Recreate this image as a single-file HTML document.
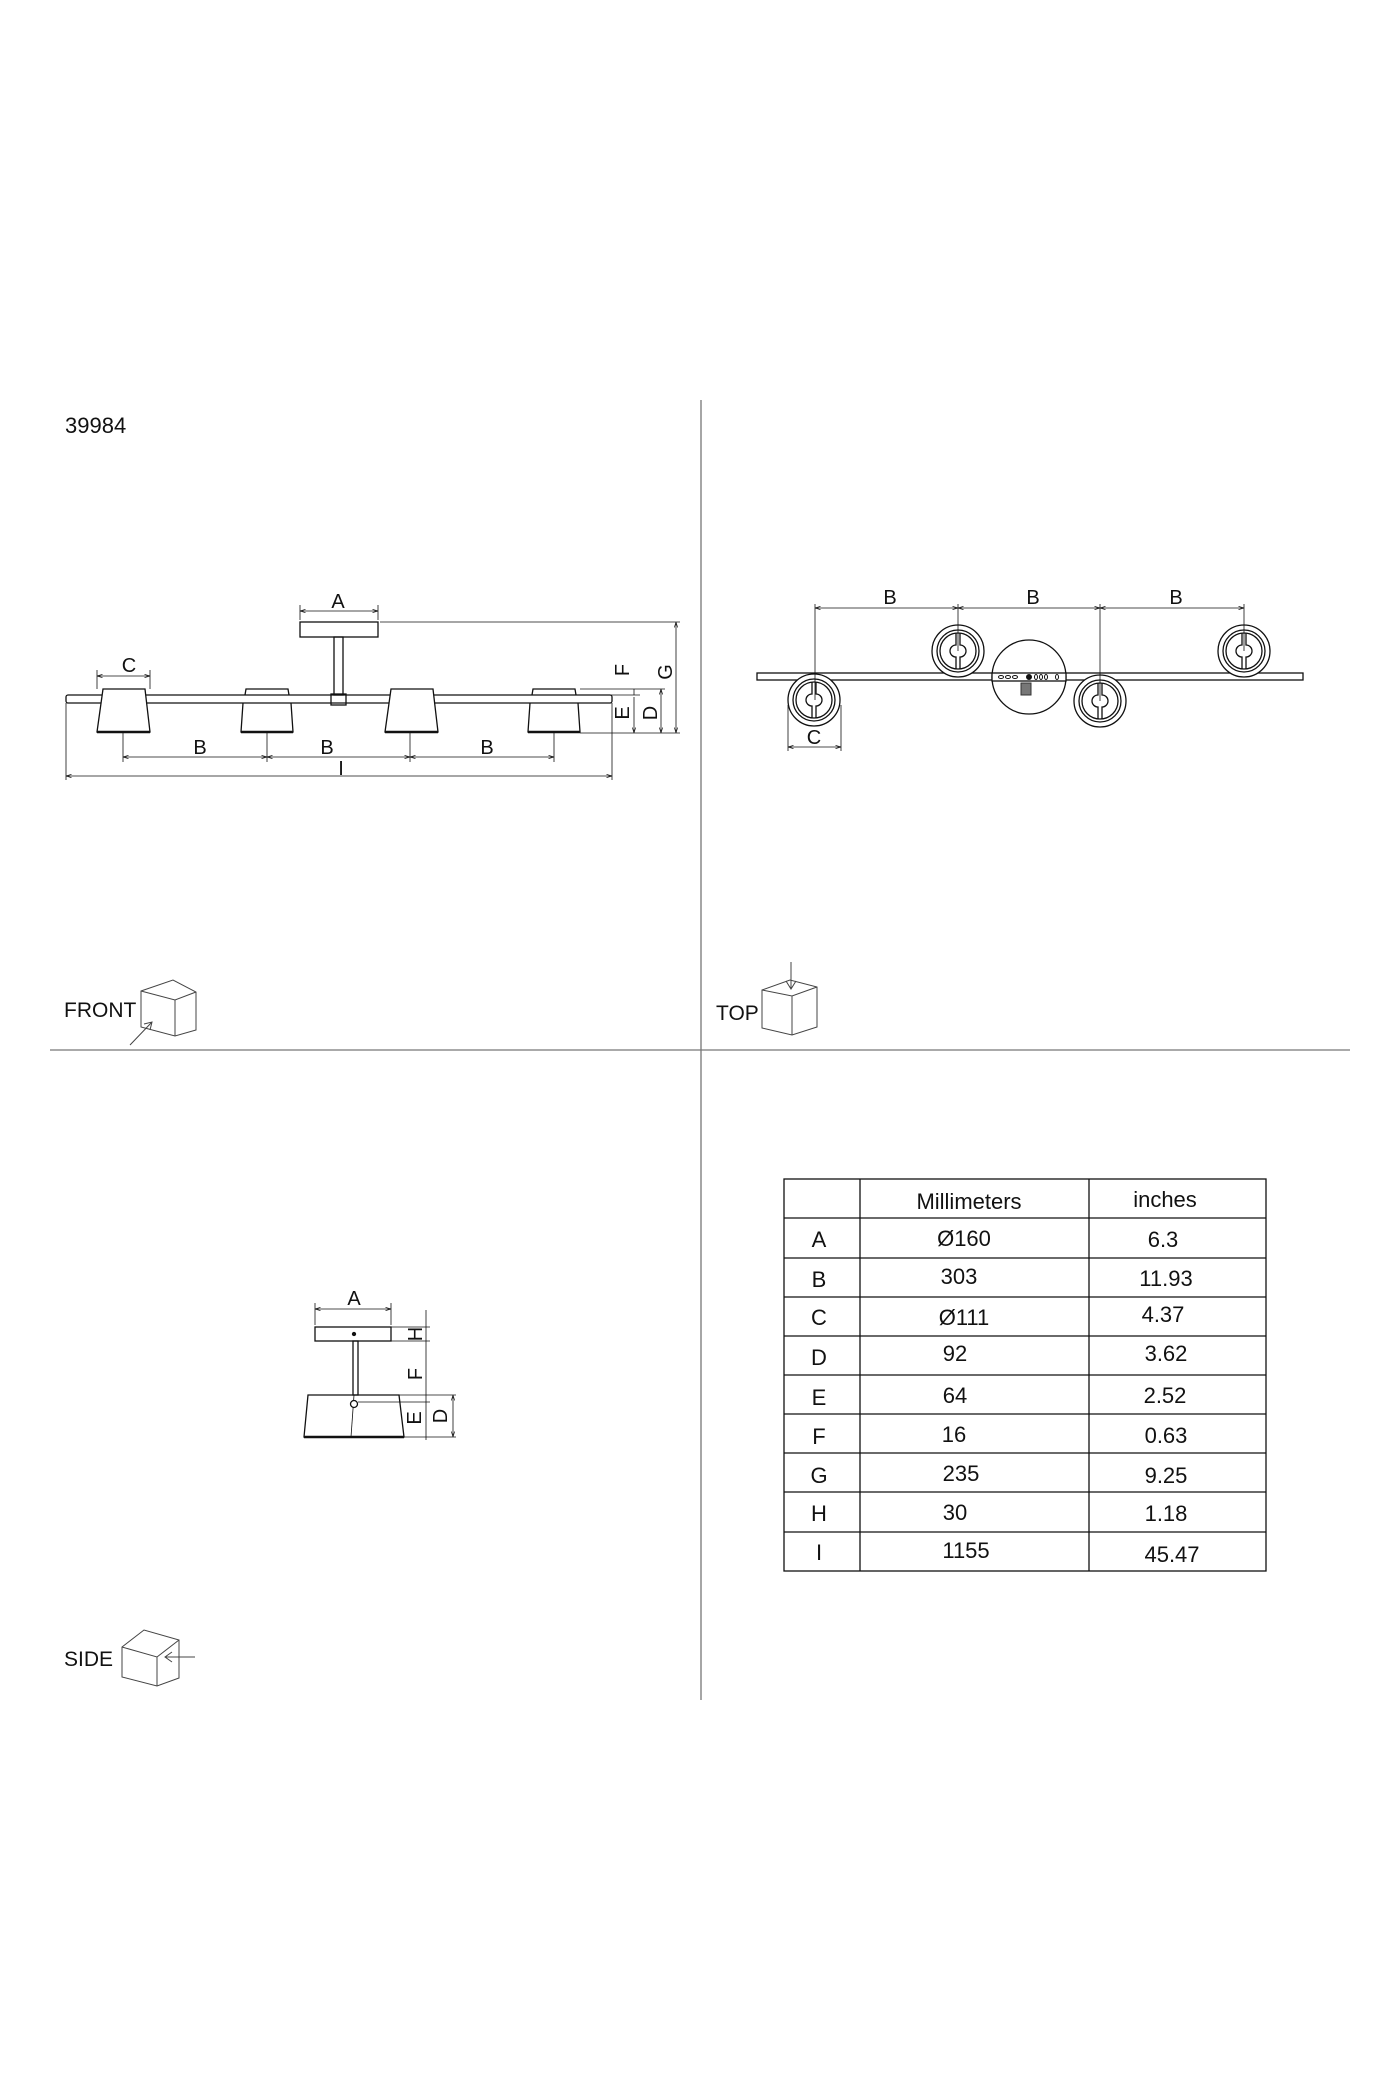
<!DOCTYPE html>
<html><head><meta charset="utf-8"><style>html,body{margin:0;padding:0;background:#fff}svg{display:block}</style></head>
<body>
<svg width="1400" height="2100" viewBox="0 0 1400 2100" xmlns="http://www.w3.org/2000/svg" font-family="Liberation Sans, sans-serif" fill="none" stroke="#111">
<defs>
<marker id="ar" viewBox="0 0 10 10" refX="10" refY="5" markerWidth="7" markerHeight="7" orient="auto-start-reverse"><path d="M0,2 L10,5 L0,8" fill="none" stroke="#111" stroke-width="1.2"/></marker>
</defs>
<!-- dividers -->
<line x1="701" y1="400" x2="701" y2="1700" stroke="#777" stroke-width="1.3"/>
<line x1="50" y1="1050" x2="1350" y2="1050" stroke="#777" stroke-width="1.3"/>

<g fill="#111" stroke="none" font-size="22">
<text x="65" y="433">39984</text>
</g>

<!-- FRONT VIEW -->
<g stroke-width="1.3">
<rect x="66" y="695" width="546" height="8" rx="2"/>
<rect x="300" y="622" width="78" height="15"/>
<rect x="334" y="637" width="9" height="58"/>
<rect x="331" y="694" width="15" height="11"/>
<!-- shade1 front -->
<path d="M97,732 L103,689 L145,689 L150,732 Z" fill="#fff"/>
<line x1="97" y1="732" x2="150" y2="732" stroke-width="2.5"/>
<!-- shade2 back -->
<path d="M245,695 L246,689 L288,689 L289,695"/>
<path d="M243,703 L241,732 L293,732 L291,703"/>
<line x1="241" y1="732" x2="293" y2="732" stroke-width="2.5"/>
<!-- shade3 front -->
<path d="M385,732 L391,689 L433,689 L438,732 Z" fill="#fff"/>
<line x1="385" y1="732" x2="438" y2="732" stroke-width="2.5"/>
<!-- shade4 back -->
<path d="M532,695 L533,689 L575,689 L576,695"/>
<path d="M530,703 L528,732 L580,732 L578,703"/>
<line x1="528" y1="732" x2="580" y2="732" stroke-width="2.5"/>
</g>
<g stroke-width="0.8">
<!-- A -->
<line x1="300" y1="611" x2="378" y2="611" marker-start="url(#ar)" marker-end="url(#ar)"/>
<line x1="300" y1="605" x2="300" y2="620"/><line x1="378" y1="605" x2="378" y2="620"/>
<!-- G -->
<line x1="380" y1="622" x2="680" y2="622"/>
<line x1="676" y1="622" x2="676" y2="733" marker-start="url(#ar)" marker-end="url(#ar)"/>
<line x1="580" y1="733" x2="680" y2="733"/>
<!-- D E F -->
<line x1="580" y1="689" x2="665" y2="689"/>
<line x1="576" y1="695" x2="640" y2="695"/>
<line x1="661" y1="689" x2="661" y2="733" marker-start="url(#ar)" marker-end="url(#ar)"/>
<line x1="634" y1="689" x2="634" y2="695"/>
<line x1="634" y1="697" x2="634" y2="733" marker-end="url(#ar)"/>
<!-- C -->
<line x1="97" y1="676" x2="150" y2="676" marker-start="url(#ar)" marker-end="url(#ar)"/>
<line x1="97" y1="670" x2="97" y2="689"/><line x1="150" y1="670" x2="150" y2="689"/>
<!-- B -->
<line x1="123" y1="733" x2="123" y2="762"/><line x1="267" y1="733" x2="267" y2="762"/><line x1="410" y1="733" x2="410" y2="762"/><line x1="554" y1="733" x2="554" y2="762"/>
<line x1="123" y1="757" x2="267" y2="757" marker-start="url(#ar)" marker-end="url(#ar)"/>
<line x1="267" y1="757" x2="410" y2="757" marker-start="url(#ar)" marker-end="url(#ar)"/>
<line x1="410" y1="757" x2="554" y2="757" marker-start="url(#ar)" marker-end="url(#ar)"/>
<!-- I -->
<line x1="66" y1="703" x2="66" y2="780"/><line x1="612" y1="703" x2="612" y2="780"/>
<line x1="66" y1="776" x2="612" y2="776" marker-start="url(#ar)" marker-end="url(#ar)"/>
</g>
<g fill="#111" stroke="none" font-size="20" text-anchor="middle">
<text x="338" y="608">A</text>
<text x="129" y="672">C</text>
<text x="200" y="754">B</text><text x="327" y="754">B</text><text x="487" y="754">B</text>
<text x="341" y="775">I</text>
<text transform="translate(672,672) rotate(-90)">G</text>
<text transform="translate(657,713) rotate(-90)">D</text>
<text transform="translate(629,670) rotate(-90)">F</text>
<text transform="translate(629,713) rotate(-90)">E</text>
<text x="64" y="1017" text-anchor="start" font-size="21">FRONT</text>
</g>
<!-- FRONT cube -->
<g stroke="#444" stroke-width="1">
<path d="M141,991 L173,980 L196,992 L196,1030 L175,1036 L141,1027 Z"/>
<path d="M141,991 L175,1000 L196,992 M175,1000 L175,1036"/>
<path d="M130,1045 L152,1022 M144,1024 L152,1022 L150,1030"/>
</g>

<!-- TOP VIEW -->
<g stroke-width="1.3">
<rect x="757" y="673" width="546" height="7"/>
<circle cx="1029" cy="677" r="37" fill="#fff"/>
<rect x="992" y="673" width="74" height="8" fill="#fff"/>
<g stroke-width="1">
<ellipse cx="1001" cy="677" rx="2.5" ry="1.5"/><ellipse cx="1008" cy="677" rx="2.5" ry="1.5"/><ellipse cx="1015" cy="677" rx="2.5" ry="1.5"/>
<circle cx="1029" cy="677" r="2.5" fill="#111"/>
<ellipse cx="1036" cy="677" rx="1.5" ry="2.5"/><ellipse cx="1041" cy="677" rx="1.5" ry="2.5"/><ellipse cx="1046" cy="677" rx="1.5" ry="2.5"/><ellipse cx="1057" cy="677" rx="1.5" ry="2.5"/>
<rect x="1021" y="683" width="10" height="12" fill="#777" stroke="#333"/>
</g>
</g>
<g stroke-width="1.3" fill="#fff">
<g transform="translate(814,700)"><circle r="26"/><circle r="21"/><circle r="18"/><path d="M-2,-18 V-6 A6,6 0 0 0 -2,6 V18 M2,-18 V-6 A6,6 0 0 1 2,6 V18" fill="none"/></g>
<g transform="translate(958,651)"><circle r="26"/><circle r="21"/><circle r="18"/><path d="M-2,-18 V-6 A6,6 0 0 0 -2,6 V18 M2,-18 V-6 A6,6 0 0 1 2,6 V18" fill="none"/></g>
<g transform="translate(1100,701)"><circle r="26"/><circle r="21"/><circle r="18"/><path d="M-2,-18 V-6 A6,6 0 0 0 -2,6 V18 M2,-18 V-6 A6,6 0 0 1 2,6 V18" fill="none"/></g>
<g transform="translate(1244,651)"><circle r="26"/><circle r="21"/><circle r="18"/><path d="M-2,-18 V-6 A6,6 0 0 0 -2,6 V18 M2,-18 V-6 A6,6 0 0 1 2,6 V18" fill="none"/></g>
</g>
<g stroke-width="0.8">
<line x1="815" y1="604" x2="815" y2="700"/><line x1="958" y1="604" x2="958" y2="651"/><line x1="1100" y1="604" x2="1100" y2="701"/><line x1="1244" y1="604" x2="1244" y2="651"/>
<line x1="815" y1="608" x2="958" y2="608" marker-start="url(#ar)" marker-end="url(#ar)"/>
<line x1="958" y1="608" x2="1100" y2="608" marker-start="url(#ar)" marker-end="url(#ar)"/>
<line x1="1100" y1="608" x2="1244" y2="608" marker-start="url(#ar)" marker-end="url(#ar)"/>
<line x1="788" y1="705" x2="788" y2="751"/><line x1="841" y1="705" x2="841" y2="751"/>
<line x1="788" y1="747" x2="841" y2="747" marker-start="url(#ar)" marker-end="url(#ar)"/>
</g>
<g fill="#111" stroke="none" font-size="20" text-anchor="middle">
<text x="890" y="604">B</text><text x="1033" y="604">B</text><text x="1176" y="604">B</text>
<text x="814" y="744">C</text>
<text x="716" y="1020" text-anchor="start" font-size="21">TOP</text>
</g>
<g stroke="#444" stroke-width="1">
<path d="M762,990 L790,980 L817,987 L817,1027 L792,1035 L762,1028 Z"/>
<path d="M762,990 L792,996 L817,987 M792,996 L792,1035"/>
<path d="M791,962 L791,989 M786,981 L791,989 L796,981"/>
</g>

<!-- SIDE VIEW -->
<g stroke-width="1.3">
<rect x="315" y="1327" width="76" height="14"/>
<rect x="353" y="1341" width="5" height="54"/>
<path d="M304,1437 L308,1395 L399,1395 L404,1437 Z"/>
<line x1="304" y1="1437" x2="404" y2="1437" stroke-width="2.5"/>
<line x1="354" y1="1395" x2="351" y2="1437" stroke-width="0.8"/>
<circle cx="354" cy="1404" r="3.5" fill="#fff"/>
<circle cx="354" cy="1334" r="1.5" fill="#111"/>
</g>
<g stroke-width="0.8">
<line x1="315" y1="1303" x2="315" y2="1325"/><line x1="391" y1="1303" x2="391" y2="1325"/>
<line x1="315" y1="1309" x2="391" y2="1309" marker-start="url(#ar)" marker-end="url(#ar)"/>
<line x1="426" y1="1310" x2="426" y2="1440"/>
<line x1="391" y1="1327" x2="430" y2="1327"/><line x1="391" y1="1341" x2="430" y2="1341"/>
<line x1="399" y1="1395" x2="456" y2="1395"/><line x1="358" y1="1402" x2="430" y2="1402"/><line x1="404" y1="1437" x2="456" y2="1437"/>
<line x1="453" y1="1395" x2="453" y2="1437" marker-start="url(#ar)" marker-end="url(#ar)"/>
</g>
<g fill="#111" stroke="none" font-size="20" text-anchor="middle">
<text x="354" y="1305">A</text>
<text transform="translate(422,1334) rotate(-90)">H</text>
<text transform="translate(422,1374) rotate(-90)">F</text>
<text transform="translate(421,1418) rotate(-90)">E</text>
<text transform="translate(447,1416) rotate(-90)">D</text>
<text x="64" y="1666" text-anchor="start" font-size="21">SIDE</text>
</g>
<g stroke="#444" stroke-width="1">
<path d="M122,1647 L144,1630 L179,1640 L179,1678 L157,1686 L122,1677 Z"/>
<path d="M122,1647 L157,1657 L179,1640 M157,1657 L157,1686"/>
<path d="M195,1657 L165,1657 M172,1652 L165,1657 L172,1662"/>
</g>

<!-- TABLE -->
<g stroke-width="1.3">
<rect x="784" y="1179" width="482" height="392"/>
<line x1="860" y1="1179" x2="860" y2="1571"/><line x1="1089" y1="1179" x2="1089" y2="1571"/>
<line x1="784" y1="1218" x2="1266" y2="1218"/><line x1="784" y1="1258" x2="1266" y2="1258"/>
<line x1="784" y1="1297" x2="1266" y2="1297"/><line x1="784" y1="1336" x2="1266" y2="1336"/>
<line x1="784" y1="1375" x2="1266" y2="1375"/><line x1="784" y1="1414" x2="1266" y2="1414"/>
<line x1="784" y1="1453" x2="1266" y2="1453"/><line x1="784" y1="1492" x2="1266" y2="1492"/>
<line x1="784" y1="1532" x2="1266" y2="1532"/>
</g>
<g fill="#111" stroke="none" font-size="22" text-anchor="middle">
<text x="969" y="1209">Millimeters</text><text x="1165" y="1207">inches</text>
<text x="819" y="1247">A</text><text x="964" y="1246">Ø160</text><text x="1163" y="1247">6.3</text>
<text x="819" y="1287">B</text><text x="959" y="1284">303</text><text x="1166" y="1286">11.93</text>
<text x="819" y="1325">C</text><text x="964" y="1325">Ø111</text><text x="1163" y="1322">4.37</text>
<text x="819" y="1365">D</text><text x="955" y="1361">92</text><text x="1166" y="1361">3.62</text>
<text x="819" y="1405">E</text><text x="955" y="1403">64</text><text x="1165" y="1403">2.52</text>
<text x="819" y="1444">F</text><text x="954" y="1442">16</text><text x="1166" y="1443">0.63</text>
<text x="819" y="1483">G</text><text x="961" y="1481">235</text><text x="1166" y="1483">9.25</text>
<text x="819" y="1521">H</text><text x="955" y="1520">30</text><text x="1166" y="1521">1.18</text>
<text x="819" y="1560">I</text><text x="966" y="1558">1155</text><text x="1172" y="1562">45.47</text>
</g>
</svg>
</body></html>
